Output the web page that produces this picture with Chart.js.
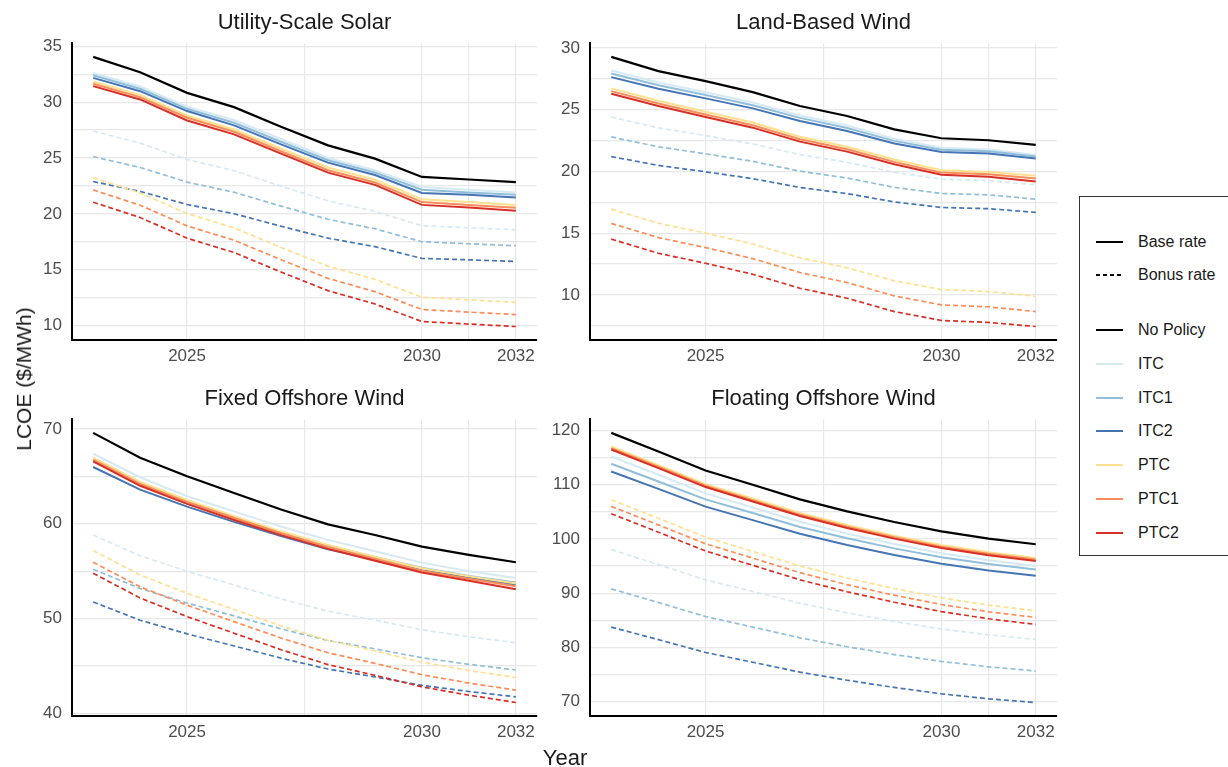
<!DOCTYPE html>
<html>
<head>
<meta charset="utf-8">
<script src="https://cdn.jsdelivr.net/npm/chart.js@4/dist/chart.umd.min.js"></script>
<style>
  body { margin: 0; background: #fff; font-family: Arial, "Liberation Sans", sans-serif; }
  #wrap { position: relative; width: 1228px; height: 767px; overflow: hidden; }
  .panel { position: absolute; }
  #ylab { position: absolute; left: 24px; top: 379px; transform: translate(-50%, -50%) rotate(-90deg);
          font-size: 21px; color: #1a1a1a; white-space: nowrap; }
  #xlab { position: absolute; left: 565px; top: 758px; transform: translate(-50%, -50%);
          font-size: 22px; color: #1a1a1a; }
  #legend { position: absolute; left: 1079px; top: 196px; width: 170px; height: 360px;
            border: 1px solid #333; box-sizing: border-box; }
  .item { position: absolute; left: 16px; height: 20px; font-size: 16px; color: #1a1a1a;
          display: flex; align-items: center; }
  .item svg { margin-right: 15px; }
</style>
</head>
<body>
<div id="wrap">
  <div class="panel" style="left:0;top:0"><canvas id="c1" width="545" height="372"></canvas></div>
  <div class="panel" style="left:520px;top:0"><canvas id="c2" width="545" height="372"></canvas></div>
  <div class="panel" style="left:0;top:376px"><canvas id="c3" width="545" height="372"></canvas></div>
  <div class="panel" style="left:520px;top:376px"><canvas id="c4" width="545" height="372"></canvas></div>
  <div id="ylab">LCOE ($/MWh)</div>
  <div id="xlab">Year</div>
  <div id="legend"></div>
</div>
<script>
var years = [2023, 2024, 2025, 2026, 2027, 2028, 2029, 2030, 2031, 2032];
var xTickLabels = [2025, 2030, 2032];
var policies = ['ITC', 'ITC1', 'ITC2', 'PTC', 'PTC1', 'PTC2'];
var policyColors = ['#d6eaf3', '#91bfdb', '#4575b4', '#fee090', '#fc8d59', '#d73027'];

// Utility-Scale Solar
var solarTicks = [10, 15, 20, 25, 30, 35];
var solarNoPolicy = [34.05, 32.68, 30.83, 29.55, 27.8, 26.13, 24.94, 23.3, 23.07, 22.83];
var solarBase = [
  [32.6, 31.4, 29.6, 28.4, 26.7, 25.0, 23.9, 22.4, 22.15, 21.9],
  [32.4, 31.2, 29.4, 28.15, 26.45, 24.8, 23.7, 22.15, 21.9, 21.7],
  [32.17, 30.98, 29.2, 27.92, 26.22, 24.58, 23.48, 21.87, 21.7, 21.46],
  [31.85, 30.65, 28.8, 27.55, 25.85, 24.15, 23.05, 21.3, 21.05, 20.8],
  [31.65, 30.45, 28.6, 27.35, 25.6, 23.9, 22.8, 21.05, 20.8, 20.55],
  [31.43, 30.24, 28.36, 27.11, 25.39, 23.69, 22.59, 20.8, 20.57, 20.27]
];
var solarBonus = [
  [27.41, 26.33, 24.87, 23.86, 22.48, 21.16, 20.22, 18.93, 18.75, 18.57],
  [25.12, 24.15, 22.84, 21.93, 20.69, 19.51, 18.66, 17.5, 17.32, 17.14],
  [22.89, 22.01, 20.83, 20.01, 18.89, 17.82, 17.06, 16.01, 15.88, 15.74],
  [23.24, 21.87, 20.02, 18.74, 16.99, 15.32, 14.13, 12.53, 12.3, 12.08],
  [22.14, 20.77, 18.92, 17.64, 15.89, 14.22, 13.03, 11.43, 11.2, 10.98],
  [21.04, 19.67, 17.82, 16.54, 14.79, 13.12, 11.93, 10.36, 10.13, 9.91]
];

// Land-Based Wind
var landTicks = [10, 15, 20, 25, 30];
var landNoPolicy = [29.27, 28.12, 27.31, 26.42, 25.29, 24.48, 23.4, 22.68, 22.52, 22.14];
var landBase = [
  [28.17, 27.2, 26.4, 25.57, 24.53, 23.71, 22.65, 21.92, 21.78, 21.33],
  [27.93, 26.98, 26.18, 25.36, 24.33, 23.51, 22.47, 21.76, 21.62, 21.2],
  [27.63, 26.69, 25.91, 25.1, 24.08, 23.27, 22.25, 21.57, 21.44, 21.04],
  [26.72, 25.72, 24.82, 23.95, 22.81, 22.0, 20.96, 20.09, 19.95, 19.64],
  [26.5, 25.5, 24.6, 23.74, 22.6, 21.79, 20.77, 19.9, 19.76, 19.42],
  [26.29, 25.29, 24.4, 23.54, 22.41, 21.6, 20.58, 19.72, 19.56, 19.18]
];
var landBonus = [
  [24.4, 23.52, 22.9, 22.22, 21.36, 20.74, 19.92, 19.37, 19.25, 18.91],
  [22.79, 21.99, 21.43, 20.81, 20.02, 19.46, 18.71, 18.21, 18.1, 17.75],
  [21.2, 20.48, 19.97, 19.41, 18.7, 18.2, 17.53, 17.08, 16.98, 16.68],
  [16.94, 15.8, 15.0, 14.12, 13.0, 12.2, 11.14, 10.43, 10.27, 9.89],
  [15.79, 14.64, 13.83, 12.94, 11.81, 11.0, 9.92, 9.19, 9.03, 8.65],
  [14.52, 13.37, 12.56, 11.67, 10.54, 9.73, 8.65, 7.93, 7.77, 7.44]
];

// Fixed Offshore Wind
var fixedTicks = [40, 50, 60, 70];
var fixedNoPolicy = [69.58, 66.96, 65.0, 63.25, 61.5, 59.93, 58.81, 57.59, 56.71, 55.94];
var fixedBase = [
  [67.38, 64.9, 62.9, 61.3, 59.7, 58.3, 57.1, 55.9, 55.0, 54.27],
  [66.6, 64.2, 62.3, 60.7, 59.1, 57.7, 56.5, 55.35, 54.5, 53.8],
  [65.98, 63.6, 61.8, 60.2, 58.7, 57.3, 56.2, 55.1, 54.3, 53.6],
  [66.96, 64.4, 62.5, 60.8, 59.2, 57.75, 56.5, 55.3, 54.45, 53.7],
  [66.75, 64.2, 62.3, 60.6, 59.0, 57.55, 56.3, 55.05, 54.2, 53.4],
  [66.57, 64.0, 62.1, 60.4, 58.8, 57.35, 56.1, 54.85, 54.0, 53.1]
];
var fixedBonus = [
  [58.81, 56.63, 54.99, 53.54, 52.08, 50.78, 49.84, 48.82, 48.09, 47.45],
  [55.21, 53.17, 51.64, 50.28, 48.92, 47.69, 46.81, 45.87, 45.18, 44.58],
  [51.75, 49.83, 48.39, 47.11, 45.83, 44.68, 43.85, 42.96, 42.31, 41.75],
  [57.17, 54.6, 52.67, 50.96, 49.24, 47.7, 46.59, 45.4, 44.53, 43.78],
  [55.94, 53.35, 51.41, 49.68, 47.95, 46.4, 45.28, 44.08, 43.2, 42.45],
  [54.79, 52.17, 50.21, 48.46, 46.72, 45.15, 44.02, 42.8, 41.92, 41.15]
];

// Floating Offshore Wind
var floatTicks = [70, 80, 90, 100, 110, 120];
var floatNoPolicy = [119.57, 116.13, 112.64, 110.0, 107.3, 105.09, 103.13, 101.41, 100.06, 99.02];
var floatBase = [
  [115.21, 111.84, 108.41, 105.81, 103.16, 100.98, 99.07, 97.37, 96.06, 95.03],
  [113.87, 110.61, 107.3, 104.78, 102.22, 100.12, 98.26, 96.62, 95.36, 94.36],
  [112.45, 109.23, 105.96, 103.47, 100.95, 98.87, 97.04, 95.42, 94.17, 93.19],
  [117.05, 113.62, 110.12, 107.47, 104.78, 102.56, 100.61, 98.88, 97.55, 96.5],
  [116.75, 113.32, 109.82, 107.17, 104.48, 102.26, 100.31, 98.58, 97.25, 96.2],
  [116.5, 113.07, 109.57, 106.92, 104.23, 102.01, 100.06, 98.33, 97.0, 95.95]
];
var floatBonus = [
  [98.04, 95.27, 92.46, 90.32, 88.15, 86.36, 84.78, 83.39, 82.31, 81.47],
  [90.8, 88.27, 85.69, 83.74, 81.75, 80.11, 78.67, 77.4, 76.41, 75.64],
  [83.74, 81.42, 79.05, 77.25, 75.43, 73.93, 72.6, 71.43, 70.5, 69.82],
  [107.24, 103.82, 100.34, 97.69, 95.01, 92.79, 90.85, 89.13, 87.79, 86.75],
  [106.01, 102.59, 99.11, 96.46, 93.78, 91.56, 89.62, 87.9, 86.56, 85.52],
  [104.66, 101.25, 97.78, 95.14, 92.46, 90.26, 88.32, 86.6, 85.27, 84.23]
];

var FONT = 'Arial, "Liberation Sans", sans-serif';

// ggplot style: grid lines at breaks plus midpoints between them
function withMinor(breaks, lo, hi) {
  var out = [];
  var step = breaks[1] - breaks[0];
  var first = breaks[0] - step / 2;
  for (var i = 0; i < breaks.length; i++) {
    out.push(breaks[i]);
    if (i < breaks.length - 1) out.push((breaks[i] + breaks[i + 1]) / 2);
  }
  out.push(first, breaks[breaks.length - 1] + step / 2);
  return out.filter(function(v) { return v >= lo && v <= hi; }).sort(function(a, b) { return a - b; });
}

function pts(arr) {
  return years.map(function(y, i) { return { x: y, y: arr[i] }; });
}

function makePanel(id, title, yBreaks, noPolicy, base, bonus, yWidth) {
  var all = noPolicy.concat.apply(noPolicy, base.concat(bonus));
  var lo = Math.min.apply(null, all), hi = Math.max.apply(null, all);
  var pad = (hi - lo) * 0.05;
  var ymin = lo - pad, ymax = hi + pad;
  var xmin = years[0] - 0.45, xmax = years[years.length - 1] + 0.45;

  var datasets = [{
    data: pts(noPolicy), borderColor: '#000', borderWidth: 2.2
  }];
  for (var i = policies.length - 1; i >= 0; i--) {
    datasets.push({ data: pts(base[i]), borderColor: policyColors[i], borderWidth: 2 });
  }
  for (var j = policies.length - 1; j >= 0; j--) {
    datasets.push({ data: pts(bonus[j]), borderColor: policyColors[j], borderWidth: 1.7, borderDash: [5, 3] });
  }

  new Chart(document.getElementById(id), {
    type: 'line',
    data: { datasets: datasets },
    options: {
      responsive: false,
      animation: false,
      layout: { padding: { right: 8 } },
      elements: { point: { radius: 0 }, line: { tension: 0 } },
      plugins: {
        legend: { display: false },
        tooltip: { enabled: false },
        title: {
          display: true, text: title, color: '#1a1a1a', fullSize: false,
          font: { family: FONT, size: 22, weight: 'normal' },
          padding: { top: 10, bottom: 7 }
        }
      },
      scales: {
        x: {
          type: 'linear', min: xmin, max: xmax,
          afterBuildTicks: function(s) {
            s.ticks = [2025, 2027.5, 2030, 2031, 2032].map(function(v) { return { value: v }; });
          },
          afterFit: function(s) { s.height = 32; },
          ticks: {
            autoSkip: false, maxRotation: 0, padding: 6, color: '#4d4d4d',
            font: { family: FONT, size: 17 },
            callback: function(v) { return xTickLabels.indexOf(v) >= 0 ? String(v) : ''; }
          },
          grid: { color: '#e8e8e8', lineWidth: 1.2, drawTicks: false },
          border: { display: true, color: '#000', width: 2 }
        },
        y: {
          min: ymin, max: ymax,
          afterBuildTicks: function(s) {
            s.ticks = withMinor(yBreaks, ymin, ymax).map(function(v) { return { value: v }; });
          },
          afterFit: function(s) { s.width = yWidth; },
          ticks: {
            autoSkip: false, padding: 10, color: '#4d4d4d',
            font: { family: FONT, size: 17 },
            callback: function(v) { return yBreaks.indexOf(v) >= 0 ? String(v) : ''; }
          },
          grid: { color: '#e8e8e8', lineWidth: 1.2, drawTicks: false },
          border: { display: true, color: '#000', width: 2 }
        }
      }
    }
  });
}

makePanel('c1', 'Utility-Scale Solar', solarTicks, solarNoPolicy, solarBase, solarBonus, 72);
makePanel('c2', 'Land-Based Wind', landTicks, landNoPolicy, landBase, landBonus, 70);
makePanel('c3', 'Fixed Offshore Wind', fixedTicks, fixedNoPolicy, fixedBase, fixedBonus, 72);
makePanel('c4', 'Floating Offshore Wind', floatTicks, floatNoPolicy, floatBase, floatBonus, 70);

// legend
var legendRows = [
  { label: 'Base rate', color: '#000', dash: false, y: 241 },
  { label: 'Bonus rate', color: '#000', dash: true, y: 274 },
  { label: 'No Policy', color: '#000', dash: false, y: 329 }
];
policies.forEach(function(p, i) {
  legendRows.push({ label: p, color: policyColors[i], dash: false, y: 363 + i * 33.7 });
});
var leg = document.getElementById('legend');
legendRows.forEach(function(r) {
  var d = document.createElement('div');
  d.className = 'item';
  d.style.top = (r.y - 196 - 10) + 'px';
  d.innerHTML = '<svg width="27" height="4"><line x1="0" y1="2" x2="27" y2="2" stroke="' + r.color +
    '" stroke-width="2"' + (r.dash ? ' stroke-dasharray="4,3"' : '') + '/></svg><span>' + r.label + '</span>';
  leg.appendChild(d);
});
</script>
</body>
</html>
